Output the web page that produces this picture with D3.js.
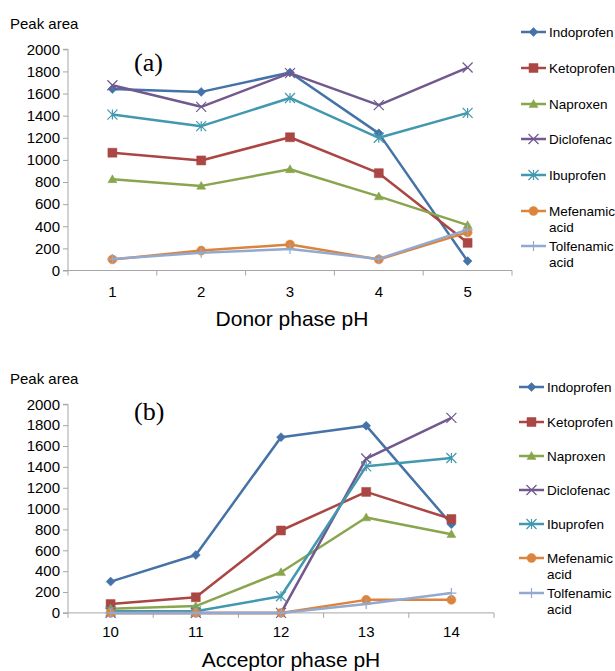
<!DOCTYPE html>
<html>
<head>
<meta charset="utf-8">
<script src="https://cdn.jsdelivr.net/npm/d3@7"></script>
<style>
  body { margin: 0; background: #fff; }
  text { font-family: "Liberation Sans", Arial, sans-serif; fill: #000; }
</style>
</head>
<body>
<div id="chart"></div>
<script>
// series names, shared by both panels
var drugs = ["Indoprofen", "Ketoprofen", "Naproxen", "Diclofenac", "Ibuprofen", "Mefenamic acid", "Tolfenamic acid"];
var colors = ["#4572A7", "#AA4643", "#89A54E", "#71588F", "#4198AF", "#DB843D", "#93A9CF"];
var markers = ["diamond", "square", "triangle", "x", "star", "circle", "plus"];
var yTicks = [0, 200, 400, 600, 800, 1000, 1200, 1400, 1600, 1800, 2000];

// (a) donor phase
var donorPH = ["1", "2", "3", "4", "5"];
var donorIndoprofen = [1640, 1615, 1790, 1240, 85];
var donorKetoprofen = [1065, 995, 1205, 880, 250];
var donorNaproxen = [825, 765, 915, 670, 410];
var donorDiclofenac = [1675, 1480, 1785, 1495, 1835];
var donorIbuprofen = [1410, 1305, 1560, 1200, 1425];
var donorMefenamic = [100, 180, 235, 100, 345];
var donorTolfenamic = [105, 160, 195, 105, 370];

// (b) acceptor phase
var acceptorPH = ["10", "11", "12", "13", "14"];
var accIndoprofen = [300, 555, 1685, 1795, 850];
var accKetoprofen = [85, 150, 790, 1160, 900];
var accNaproxen = [40, 65, 390, 915, 755];
var accDiclofenac = [0, 0, 0, 1480, 1870];
var accIbuprofen = [15, 15, 160, 1405, 1485];
var accMefenamic = [0, 0, 0, 125, 125];
var accTolfenamic = [0, 0, 0, 85, 190];

var svg = d3.select("#chart").append("svg")
    .attr("width", 615)
    .attr("height", 671);

function markerPath(type, r) {
    switch (type) {
        case "diamond": return "M0," + (-r) + "L" + r + ",0L0," + r + "L" + (-r) + ",0Z";
        case "square": return "M" + (-r) + "," + (-r) + "H" + r + "V" + r + "H" + (-r) + "Z";
        case "triangle": return "M0," + (-r) + "L" + r + "," + (r * 0.75) + "L" + (-r) + "," + (r * 0.75) + "Z";
        case "circle": return d3.symbol().type(d3.symbolCircle).size(Math.PI * r * r)();
        case "x": return "M" + (-r) + "," + (-r) + "L" + r + "," + r + "M" + (-r) + "," + r + "L" + r + "," + (-r);
        case "star": return "M" + (-r) + "," + (-r) + "L" + r + "," + r + "M" + (-r) + "," + r + "L" + r + "," + (-r) + "M0," + (-r) + "V" + r;
        case "plus": return "M" + (-r) + ",0H" + r + "M0," + (-r) + "V" + r;
    }
}

function addMarker(sel, type, color) {
    var open = type === "x" || type === "star" || type === "plus";
    sel.append("path")
        .attr("d", markerPath(type, open ? 5 : 4.5))
        .attr("fill", open ? "none" : color)
        .attr("stroke", color)
        .attr("stroke-width", open ? 1.2 : 0.5);
}

function panel(opt) {
    var x = d3.scaleBand().domain(opt.cats).range([opt.x0, opt.x1]);
    var y = d3.scaleLinear().domain([0, 2000]).range([opt.y0, opt.y1]);
    var g = svg.append("g");

    // y axis
    var ya = g.append("g")
        .attr("transform", "translate(" + opt.x0 + ",0)")
        .call(d3.axisLeft(y).tickValues(yTicks).tickFormat(d3.format("d")).tickSize(5).tickPadding(3));
    ya.attr("font-family", null);
    ya.select(".domain").attr("stroke", "#A6A6A6").attr("d", "M-5," + opt.y0 + "H0V" + opt.y1 + "H-5");
    ya.selectAll(".tick line").attr("stroke", "#A6A6A6");
    ya.selectAll("text").style("font-size", "15px").attr("fill", "#000");

    // x axis, labels at band centres, ticks at band edges
    var xa = g.append("g")
        .attr("transform", "translate(0," + opt.y0 + ")")
        .call(d3.axisBottom(x).tickSize(0).tickPadding(opt.xPad));
    xa.attr("font-family", null);
    xa.select(".domain").attr("stroke", "#A6A6A6").attr("d", "M" + opt.x0 + ",0H" + opt.x1);
    xa.selectAll("text").style("font-size", "15px").attr("fill", "#000");
    var edges = opt.cats.map(function(c) { return x(c); }).concat([opt.x1]);
    xa.selectAll(".edge").data(edges).enter().append("line")
        .attr("x1", function(d) { return d; }).attr("x2", function(d) { return d; })
        .attr("y1", 0).attr("y2", 5)
        .attr("stroke", "#A6A6A6");

    // series
    var line = d3.line()
        .x(function(d, i) { return x(opt.cats[i]) + x.bandwidth() / 2; })
        .y(function(d) { return y(d); });
    opt.series.forEach(function(vals, s) {
        g.append("path")
            .attr("d", line(vals))
            .attr("fill", "none")
            .attr("stroke", colors[s])
            .attr("stroke-width", 2.5)
            .attr("stroke-linejoin", "round");
        g.selectAll(".m" + s).data(vals).enter().append("g")
            .attr("transform", function(d, i) {
                return "translate(" + (x(opt.cats[i]) + x.bandwidth() / 2) + "," + y(d) + ")";
            })
            .each(function() { addMarker(d3.select(this), markers[s], colors[s]); });
    });

    // titles
    g.append("text").attr("x", 10).attr("y", opt.peakY).style("font-size", "15px").text("Peak area");
    g.append("text").attr("x", 134).attr("y", opt.tagY)
        .style("font-family", "'Liberation Serif', 'Times New Roman', serif")
        .style("font-size", "26px").text(opt.tag);
    g.append("text").attr("x", (opt.x0 + opt.x1) / 2 + opt.titleDx).attr("y", opt.titleY)
        .attr("text-anchor", "middle").style("font-size", "21px").text(opt.title);

    // legend
    var lg = g.selectAll(".leg").data(drugs).enter().append("g")
        .attr("transform", function(d, i) { return "translate(" + opt.legX + "," + opt.legY[i] + ")"; });
    lg.append("line").attr("x1", 0).attr("x2", 25)
        .attr("stroke", function(d, i) { return colors[i]; })
        .attr("stroke-width", 2.5);
    lg.each(function(d, i) {
        var m = d3.select(this).append("g").attr("transform", "translate(12.5,0)");
        addMarker(m, markers[i], colors[i]);
    });
    lg.append("text").attr("x", 28).attr("y", 5).style("font-size", "13.5px")
        .each(function(d) {
            var t = d3.select(this), parts = d.split(" ");
            t.append("tspan").attr("x", 28).text(parts[0]);
            if (parts[1]) t.append("tspan").attr("x", 28).attr("dy", 16).text(parts[1]);
        });
}

panel({
    cats: donorPH,
    series: [donorIndoprofen, donorKetoprofen, donorNaproxen, donorDiclofenac, donorIbuprofen, donorMefenamic, donorTolfenamic],
    x0: 68, x1: 512, y0: 270.5, y1: 49.3, xPad: 16,
    peakY: 29, tag: "(a)", tagY: 71,
    title: "Donor phase pH", titleY: 326, titleDx: 2,
    legX: 521, legY: [32, 68, 104, 139, 175, 211, 246]
});

panel({
    cats: acceptorPH,
    series: [accIndoprofen, accKetoprofen, accNaproxen, accDiclofenac, accIbuprofen, accMefenamic, accTolfenamic],
    x0: 68, x1: 494, y0: 612.9, y1: 404.3, xPad: 13,
    peakY: 384, tag: "(b)", tagY: 420,
    title: "Acceptor phase pH", titleY: 667, titleDx: 10,
    legX: 519, legY: [387, 422, 456, 490, 524, 558, 593]
});
</script>
</body>
</html>
